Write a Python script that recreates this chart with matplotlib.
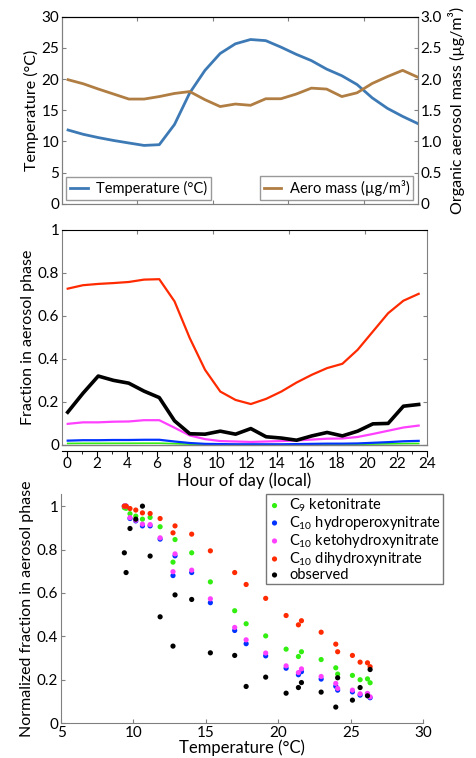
import numpy as np
import matplotlib
matplotlib.use("Agg")
import matplotlib.pyplot as plt
from matplotlib.lines import Line2D

plt.rcParams['font.family'] = ['Lato', 'DejaVu Sans']
plt.rcParams['mathtext.fontset'] = 'custom'
plt.rcParams['mathtext.rm'] = 'Lato'
plt.rcParams['mathtext.it'] = 'Lato'
plt.rcParams['mathtext.fallback'] = 'stixsans'

# hourly data (24 points)
temperature = [11.84, 11.15, 10.62, 10.16, 9.76, 9.37, 9.49, 12.73, 17.78, 21.39, 24.10, 25.65,
               26.34, 26.16, 25.12, 23.97, 22.96, 21.60, 20.54, 19.13, 16.99, 15.31, 14.02, 12.87]
aero_mass = [1.99, 1.925, 1.84, 1.76, 1.68, 1.68, 1.72, 1.77, 1.80, 1.67, 1.56, 1.60,
             1.58, 1.685, 1.685, 1.76, 1.855, 1.84, 1.72, 1.78, 1.93, 2.04, 2.14, 2.03]

red_mid = [0.726, 0.742, 0.748, 0.752, 0.757, 0.768, 0.770, 0.667, 0.496, 0.349, 0.248, 0.209,
           0.190, 0.214, 0.248, 0.290, 0.326, 0.357, 0.377, 0.442, 0.527, 0.612, 0.670, 0.702]
black_mid = [0.152, 0.240, 0.320, 0.300, 0.287, 0.250, 0.220, 0.112, 0.052, 0.050, 0.064, 0.050,
             0.076, 0.038, 0.032, 0.022, 0.042, 0.058, 0.042, 0.064, 0.098, 0.100, 0.180, 0.188]
magenta_mid = [0.098, 0.105, 0.105, 0.108, 0.109, 0.115, 0.115, 0.080, 0.044, 0.027, 0.018, 0.016,
               0.014, 0.016, 0.018, 0.021, 0.025, 0.029, 0.030, 0.037, 0.051, 0.066, 0.081, 0.090]
blue_mid = [0.020, 0.022, 0.022, 0.023, 0.023, 0.024, 0.024, 0.016, 0.009, 0.005, 0.004, 0.003,
            0.003, 0.003, 0.003, 0.004, 0.005, 0.006, 0.006, 0.007, 0.010, 0.013, 0.017, 0.019]
green_mid = [0.0070, 0.0075, 0.0075, 0.0076, 0.0077, 0.0080, 0.0080, 0.0060, 0.0037, 0.0025, 0.0018, 0.0016,
             0.0015, 0.0016, 0.0018, 0.0020, 0.0023, 0.0026, 0.0027, 0.0032, 0.0041, 0.0052, 0.0063, 0.0068]

# normalized fractions vs temperature
temp_sorted = [9.37, 9.49, 9.76, 10.16, 10.62, 11.15, 11.84, 12.73, 12.87, 14.02, 15.31, 16.99,
               17.78, 19.13, 20.54, 21.39, 21.60, 22.96, 23.97, 24.10, 25.12, 25.65, 26.16, 26.34]
norm_c9_keto = [0.993, 0.99, 0.965, 0.954, 0.94, 0.948, 0.905, 0.742, 0.846, 0.785, 0.651, 0.518,
                0.458, 0.402, 0.341, 0.307, 0.329, 0.293, 0.255, 0.226, 0.22, 0.20, 0.204, 0.186]
norm_c10_hydroperoxy = [1.0, 1.0, 0.943, 0.932, 0.909, 0.909, 0.848, 0.68, 0.771, 0.694, 0.555, 0.427,
                        0.366, 0.31, 0.253, 0.223, 0.237, 0.203, 0.17, 0.152, 0.144, 0.129, 0.134, 0.117]
norm_c10_ketohydroxy = [1.0, 1.0, 0.947, 0.935, 0.917, 0.915, 0.854, 0.698, 0.78, 0.705, 0.573, 0.441,
                        0.384, 0.323, 0.264, 0.233, 0.25, 0.215, 0.183, 0.16, 0.152, 0.135, 0.137, 0.121]
norm_c10_dihydroxy = [1.0, 1.0, 0.989, 0.982, 0.969, 0.966, 0.943, 0.877, 0.909, 0.871, 0.794, 0.694,
                      0.639, 0.575, 0.496, 0.453, 0.472, 0.419, 0.364, 0.329, 0.312, 0.281, 0.278, 0.26]
norm_observed = [0.785, 0.694, 0.897, 0.94, 1.0, 0.77, 0.49, 0.355, 0.591, 0.57, 0.324, 0.312,
                 0.169, 0.212, 0.138, 0.164, 0.187, 0.143, 0.074, 0.209, 0.106, 0.164, 0.126, 0.247]

hour_top = np.linspace(0.4, 23.6, 24)
hour_mid = np.linspace(0.05, 23.45, 24)

GRAY = '#808080'
C_TEMP = '#3d7ab5'
C_MASS = '#b07d43'
C_RED = '#ff2a00'
C_MAG = '#ff40ff'
C_BLUE = '#0033ff'
C_GREEN = '#33ee11'
FS = 11
LFS = 10.5

fig = plt.figure(figsize=(4.77, 7.58), dpi=100)

# ---- top panel
ax1 = fig.add_axes([0.130, 0.731, 0.746, 0.247])
ax1.plot(hour_top, temperature, color=C_TEMP, lw=2)
ax1.set_xlim(0, 23.6)
ax1.set_ylim(0, 30)
ax1.set_xticks([5, 10, 15, 20])
ax1.set_xticklabels([])
ax1.set_yticks(range(0, 31, 5))
ax1.set_ylabel('Temperature (°C)', fontsize=11.5, labelpad=2)
ax1.tick_params(axis='both', direction='in', length=3, color=GRAY, labelsize=FS, top=True, pad=2)
for s in ['left', 'right', 'bottom']:
    ax1.spines[s].set_color(GRAY)
ax1.spines['top'].set_color('black')

ax1r = ax1.twinx()
ax1r.plot(hour_top, aero_mass, color=C_MASS, lw=2)
ax1r.set_ylim(0, 3)
ax1r.set_yticks(np.arange(0, 3.01, 0.5))
ax1r.set_yticklabels(['0', '0.5', '1.0', '1.5', '2.0', '2.5', '3.0'])
ax1r.tick_params(axis='y', direction='in', length=3, color=GRAY, labelsize=FS, pad=2)
ax1r.set_ylabel('Organic aerosol mass (µg/m³)', fontsize=11.5, labelpad=4)
for s in ['left', 'right', 'bottom']:
    ax1r.spines[s].set_color(GRAY)
ax1r.spines['top'].set_color('black')

leg_kw = dict(fontsize=LFS, frameon=True, fancybox=False, handlelength=1.2,
              handletextpad=0.6, borderpad=0.25, borderaxespad=0.3)
leg1 = ax1r.legend(handles=[Line2D([], [], color=C_TEMP, lw=2)], labels=['Temperature (°C)'],
                   loc='lower left', **leg_kw)
leg1.get_frame().set_edgecolor(GRAY)
leg1.get_frame().set_linewidth(1)
ax1r.add_artist(leg1)
leg2 = ax1r.legend(handles=[Line2D([], [], color=C_MASS, lw=2)], labels=['Aero mass (µg/m³)'],
                   loc='lower right', **leg_kw)
leg2.get_frame().set_edgecolor(GRAY)
leg2.get_frame().set_linewidth(1)

# ---- middle panel
ax2 = fig.add_axes([0.130, 0.413, 0.765, 0.284])
ax2.plot(hour_mid, green_mid, color=C_GREEN, lw=1.2)
ax2.plot(hour_mid, blue_mid, color=C_BLUE, lw=1.6)
ax2.plot(hour_mid, magenta_mid, color=C_MAG, lw=1.6)
ax2.plot(hour_mid, red_mid, color=C_RED, lw=1.6)
ax2.plot(hour_mid, black_mid, color='black', lw=2.6)
ax2.set_xlim(-0.33, 24)
ax2.set_ylim(0, 1)
ax2.set_yticks([0, 0.2, 0.4, 0.6, 0.8, 1])
ax2.set_yticklabels(['0', '0.2', '0.4', '0.6', '0.8', '1'])
ax2.set_xticks(range(0, 25, 2))
ax2.set_xticks(range(0, 25, 1), minor=True)
ax2.tick_params(axis='y', direction='in', length=3, color=GRAY, labelsize=FS, right=True, pad=2)
ax2.tick_params(axis='x', which='major', direction='out', length=4, labelsize=FS, pad=1)
ax2.tick_params(axis='x', which='minor', direction='out', length=2.5)
ax2.spines['bottom'].set_position(('outward', 4))
ax2.spines['bottom'].set_color('black')
ax2.spines['left'].set_color(GRAY)
ax2.spines['right'].set_color(GRAY)
ax2.spines['top'].set_color('black')
ax2.plot([0, 1], [0, 0], transform=ax2.transAxes, color=GRAY, lw=1, clip_on=False)
ax2.set_xlabel('Hour of day (local)', fontsize=12, labelpad=1)
ax2.set_ylabel('Fraction in aerosol phase', fontsize=11.5, labelpad=2)
sec = ax2.secondary_xaxis('top')
sec.set_xticks([4.66, 9.76, 14.78, 19.88])
sec.set_xticklabels([])
sec.tick_params(direction='in', length=3, color=GRAY)
sec.spines['top'].set_visible(False)

# ---- bottom panel
ax3 = fig.add_axes([0.128, 0.046, 0.759, 0.302])
series = [
    (norm_c9_keto, C_GREEN, r'C$_9$ ketonitrate'),
    (norm_c10_hydroperoxy, C_BLUE, r'C$_{10}$ hydroperoxynitrate'),
    (norm_c10_ketohydroxy, C_MAG, r'C$_{10}$ ketohydroxynitrate'),
    (norm_c10_dihydroxy, C_RED, r'C$_{10}$ dihydroxynitrate'),
    (norm_observed, 'black', 'observed'),
]
for vals, col, lab in series:
    ax3.scatter(temp_sorted, vals, s=14, color=col, edgecolors='none', label=lab)
ax3.set_xlim(5, 30)
ax3.set_ylim(0, 1.055)
ax3.set_xticks(range(5, 31, 5))
ax3.set_yticks([0, 0.2, 0.4, 0.6, 0.8, 1])
ax3.set_yticklabels(['0', '0.2', '0.4', '0.6', '0.8', '1'])
ax3.tick_params(axis='both', direction='in', length=3, color=GRAY, labelsize=FS, pad=2)
ax3.spines['top'].set_visible(False)
ax3.spines['right'].set_visible(False)
ax3.spines['left'].set_color(GRAY)
ax3.spines['bottom'].set_color(GRAY)
ax3.set_xlabel('Temperature (°C)', fontsize=12, labelpad=0)
ax3.set_ylabel('Normalized fraction in aerosol phase', fontsize=11.5, labelpad=2)
leg3 = ax3.legend(loc='upper right', bbox_to_anchor=(1.055, 1.0), fontsize=LFS, frameon=True,
                  fancybox=False, handlelength=0.8, handletextpad=0.6, borderpad=0.15,
                  labelspacing=0.0, scatterpoints=1, borderaxespad=0)
leg3.get_frame().set_edgecolor('#555555')
leg3.get_frame().set_linewidth(1)

plt.savefig('out.png', dpi=100)
plt.close()
